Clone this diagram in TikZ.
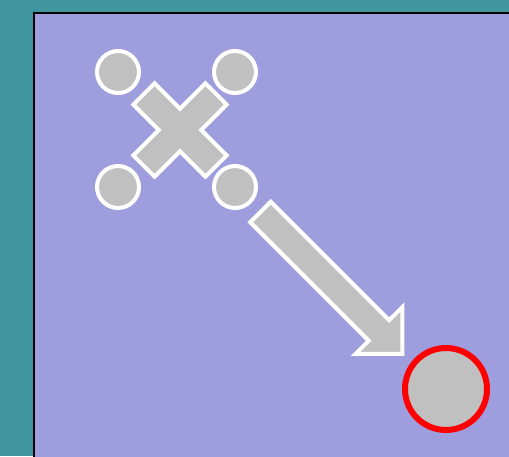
\documentclass[tikz,border=0pt]{standalone}
\definecolor{teal1}{RGB}{63,150,158}
\definecolor{lav}{RGB}{158,157,222}
\definecolor{gry}{RGB}{192,192,192}
\tikzset{
  dot/.style={circle, draw=white, line width=4pt, fill=gry, minimum size=42pt, inner sep=0pt},
  target/.style={circle, draw=red, line width=6pt, fill=gry, minimum size=82pt, inner sep=0pt},
  glyph/.style={draw=white, line width=4pt, fill=gry, miter limit=10}
}
\begin{document}
\begin{tikzpicture}[x=1pt, y=-1pt]
\useasboundingbox (0,0) rectangle (509,456);
\clip (0,0) rectangle (509,456);
\fill[teal1] (0,0) rectangle (509,456);
\draw[fill=lav, draw=black, line width=2pt] (34,13) rectangle (540,490);
% cross
\begin{scope}[shift={(180,130)}, rotate=45]
\draw[glyph] (-51,-15) -- (-15,-15) -- (-15,-51) -- (15,-51) -- (15,-15) -- (51,-15)
  -- (51,15) -- (15,15) -- (15,51) -- (-15,51) -- (-15,15) -- (-51,15) -- cycle;
\end{scope}
\node[dot] (c1) at (118,72) {};
\node[dot] (c2) at (235,72) {};
\node[dot] (c3) at (118,187) {};
\node[dot] (c4) at (235,187) {};
% arrow
\begin{scope}[shift={(260.5,212)}, rotate=-45]
\draw[glyph] (0,14.5) -- (167.5,14.5) -- (167.5,33) -- (200.5,0) -- (167.5,-33)
  -- (167.5,-14.5) -- (0,-14.5) -- cycle;
\end{scope}
\node[target] (t) at (446,389) {};
\end{tikzpicture}
\end{document}
